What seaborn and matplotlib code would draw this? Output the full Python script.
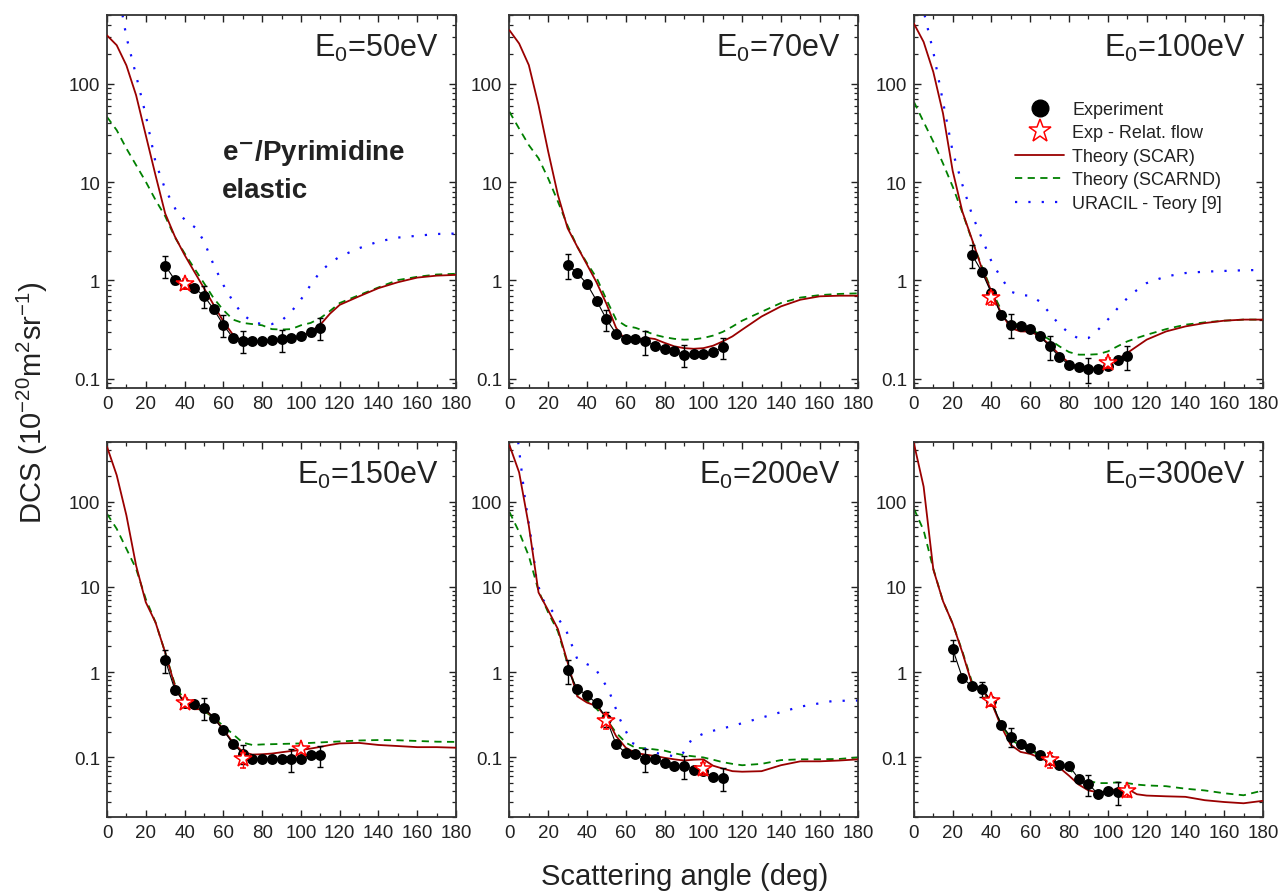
import numpy as np
import matplotlib
matplotlib.use("Agg")
import matplotlib.pyplot as plt
import seaborn as sns
import pandas as pd
from matplotlib.lines import Line2D
from matplotlib.ticker import FixedLocator, FixedFormatter, MultipleLocator, LogLocator, NullFormatter

# ---------------- data ----------------
ENERGIES = [50, 70, 100, 150, 200, 300]

ANG = [0, 5, 10, 15, 20, 25, 30, 35, 40, 45, 50, 55, 60, 65, 70, 75, 80, 85, 90, 95,
       100, 105, 110, 115, 120, 130, 140, 150, 160, 170, 180]

SCAR_50 = [311, 247, 154, 76.6, 30, 11.8, 4.8, 2.8, 1.82, 1.23, 0.836, 0.565, 0.383, 0.28, 0.24, 0.235,
           0.235, 0.237, 0.244, 0.255, 0.27, 0.30, 0.355, 0.46, 0.565, 0.69, 0.836, 0.96, 1.07, 1.12, 1.14]
SCARND_50 = [46, 33.8, 22, 14.9, 10.1, 6.6, 4.5, 2.75, 1.89, 1.33, 0.94, 0.66, 0.50, 0.40, 0.37, 0.36,
             0.35, 0.32, 0.317, 0.32, 0.35, 0.37, 0.414, 0.49, 0.59, 0.71, 0.85, 1.01, 1.09, 1.15, 1.17]
URA_ANG_50 = [8, 10, 15, 20, 25, 30, 36, 41, 46, 50, 55, 60, 65, 70, 75, 80, 85, 90, 95, 100,
              105, 110, 115, 120, 130, 140, 150, 160, 170, 180]
URA_50 = [500, 300, 122, 48, 16, 8.5, 5.0, 4.0, 3.4, 2.5, 1.44, 0.90, 0.61, 0.45, 0.38, 0.36, 0.36, 0.39,
          0.48, 0.64, 0.90, 1.23, 1.5, 1.75, 2.13, 2.49, 2.73, 2.85, 2.97, 3.0]

SCAR_70 = [351, 257, 155, 60.7, 20.4, 7.4, 3.4, 2.2, 1.45, 0.95, 0.58, 0.33, 0.245, 0.245, 0.262, 0.254,
           0.232, 0.214, 0.205, 0.202, 0.205, 0.217, 0.24, 0.27, 0.316, 0.43, 0.545, 0.637, 0.69, 0.70, 0.70]
SCARND_70 = [52, 35, 23.8, 17.5, 10.9, 6.35, 3.6, 2.2, 1.5, 1.06, 0.64, 0.40, 0.345, 0.33, 0.305, 0.28,
             0.265, 0.255, 0.25, 0.252, 0.26, 0.275, 0.30, 0.34, 0.39, 0.48, 0.59, 0.67, 0.71, 0.73, 0.74]

SCAR_100 = [410, 267, 132, 50, 13, 5.0, 2.6, 1.33, 0.77, 0.465, 0.328, 0.303, 0.303, 0.27, 0.222, 0.176,
            0.145, 0.131, 0.127, 0.128, 0.139, 0.157, 0.183, 0.214, 0.25, 0.303, 0.341, 0.369, 0.39, 0.40, 0.40]
SCARND_100 = [65.6, 41, 25.8, 15.5, 9.0, 4.9, 2.55, 1.39, 0.80, 0.50, 0.384, 0.341, 0.316, 0.286, 0.25, 0.214,
              0.187, 0.176, 0.176, 0.178, 0.19, 0.214, 0.24, 0.26, 0.28, 0.32, 0.355, 0.375, 0.39, 0.40, 0.40]
URA_ANG_100 = [5.5, 10, 15, 20, 25, 30, 35, 40, 45, 50, 55, 60, 65, 70, 75, 80, 85, 90, 95, 100,
               105, 110, 115, 120, 130, 140, 150, 160, 170, 180]
URA_100 = [500, 211, 65.6, 20.4, 9.4, 4.65, 2.7, 1.56, 1.06, 0.77, 0.71, 0.70, 0.61, 0.466, 0.355, 0.292,
           0.256, 0.26, 0.316, 0.40, 0.52, 0.66, 0.80, 0.94, 1.1, 1.19, 1.23, 1.25, 1.27, 1.28]

SCAR_150 = [440, 204, 69, 17.8, 6.6, 3.84, 1.7, 0.69, 0.42, 0.367, 0.37, 0.293, 0.213, 0.149, 0.116, 0.108,
            0.109, 0.111, 0.115, 0.119, 0.122, 0.127, 0.133, 0.14, 0.146, 0.148, 0.14, 0.136, 0.132, 0.132, 0.13]
SCARND_150 = [72, 48, 28, 16.3, 7.2, 3.84, 1.7, 0.72, 0.46, 0.384, 0.35, 0.293, 0.234, 0.187, 0.149, 0.14,
              0.142, 0.143, 0.144, 0.145, 0.146, 0.148, 0.15, 0.152, 0.154, 0.158, 0.16, 0.159, 0.156, 0.153, 0.152]

SCAR_200 = [460, 220, 52, 8.6, 5.3, 3.2, 1.3, 0.52, 0.44, 0.40, 0.293, 0.178, 0.13, 0.113, 0.108, 0.104,
            0.099, 0.095, 0.092, 0.094, 0.095, 0.08, 0.074, 0.069, 0.068, 0.069, 0.081, 0.09, 0.09, 0.092, 0.095]
SCARND_200 = [75.6, 44, 23, 9.0, 5.0, 3.0, 1.25, 0.56, 0.46, 0.37, 0.28, 0.195, 0.149, 0.13, 0.128, 0.124,
              0.12, 0.112, 0.106, 0.103, 0.1, 0.094, 0.088, 0.084, 0.081, 0.084, 0.093, 0.095, 0.095, 0.096, 0.1]
URA_ANG_200 = [4.5, 8, 12, 14, 17, 24, 29, 35, 40, 44, 51, 57, 63, 70, 77, 84, 89, 94, 101, 115,
               133, 150, 167, 180]
URA_200 = [500, 108, 28, 11.9, 7.2, 4.6, 3.2, 1.42, 1.24, 1.13, 0.63, 0.28, 0.149, 0.126, 0.111, 0.104,
           0.108, 0.163, 0.195, 0.234, 0.306, 0.394, 0.46, 0.465]

SCAR_300 = [481, 150, 16, 6.8, 3.7, 1.7, 0.72, 0.63, 0.44, 0.23, 0.14, 0.116, 0.11, 0.099, 0.088, 0.076,
            0.061, 0.048, 0.041, 0.039, 0.04, 0.043, 0.043, 0.037, 0.0357, 0.035, 0.0345, 0.0315, 0.030, 0.029, 0.031]
SCARND_300 = [82.8, 46, 16.3, 6.8, 3.7, 1.75, 0.76, 0.6, 0.44, 0.244, 0.163, 0.136, 0.119, 0.108, 0.094, 0.083,
              0.072, 0.06, 0.053, 0.05, 0.05, 0.051, 0.05, 0.048, 0.047, 0.046, 0.043, 0.041, 0.038, 0.036, 0.041]

EXP_ANG = [30, 35, 40, 45, 50, 55, 60, 65, 70, 75, 80, 85, 90, 95, 100, 105, 110]
EXP_50 = [1.42, 1.01, 0.92, 0.835, 0.70, 0.51, 0.354, 0.26, 0.244, 0.24, 0.244, 0.25, 0.252, 0.26, 0.27, 0.296, 0.33]
ERR_50 = [0.25, 0.08, 0.08, 0.08, 0.25, 0.08, 0.25, 0.08, 0.25, 0.06, 0.06, 0.06, 0.25, 0.06, 0.06, 0.08, 0.25]
EXP_70 = [1.44, 1.19, 0.92, 0.62, 0.405, 0.288, 0.254, 0.254, 0.24, 0.217, 0.202, 0.19, 0.176, 0.177, 0.177, 0.187, 0.21]
ERR_70 = [0.28, 0.08, 0.08, 0.08, 0.25, 0.08, 0.06, 0.06, 0.27, 0.06, 0.06, 0.06, 0.25, 0.06, 0.06, 0.06, 0.25]
EXP_100 = [1.82, 1.23, 0.74, 0.448, 0.355, 0.341, 0.323, 0.27, 0.214, 0.167, 0.139, 0.131, 0.126, 0.127, 0.134, 0.157, 0.169]
ERR_100 = [0.27, 0.08, 0.08, 0.08, 0.27, 0.08, 0.06, 0.06, 0.27, 0.06, 0.06, 0.06, 0.28, 0.06, 0.06, 0.06, 0.27]
EXP_150 = [1.4, 0.62, 0.44, 0.428, 0.384, 0.293, 0.208, 0.145, 0.111, 0.097, 0.095, 0.095, 0.096, 0.096, 0.097, 0.106, 0.107]
ERR_150 = [0.3, 0.08, 0.08, 0.08, 0.28, 0.08, 0.06, 0.06, 0.25, 0.06, 0.06, 0.06, 0.06, 0.3, 0.06, 0.06, 0.27]
EXP_200 = [1.06, 0.64, 0.536, 0.43, 0.285, 0.142, 0.113, 0.111, 0.097, 0.097, 0.086, 0.079, 0.08, 0.072, 0.069, 0.059, 0.058]
ERR_200 = [0.32, 0.08, 0.08, 0.08, 0.2, 0.08, 0.06, 0.06, 0.3, 0.06, 0.06, 0.06, 0.3, 0.06, 0.06, 0.06, 0.3]
EXP_ANG_300 = [20, 25, 30, 35, 40, 45, 50, 55, 60, 65, 70, 75, 80, 85, 90, 95, 100, 105]
EXP_300 = [1.87, 0.857, 0.68, 0.643, 0.46, 0.242, 0.175, 0.145, 0.129, 0.107, 0.093, 0.081, 0.08, 0.056,
           0.049, 0.037, 0.040, 0.0395]
ERR_300 = [0.28, 0.06, 0.06, 0.2, 0.08, 0.06, 0.25, 0.06, 0.06, 0.06, 0.08, 0.06, 0.06, 0.06, 0.28, 0.06, 0.06, 0.3]

REL_ANG_50, REL_50, REL_ERR_50 = [40], [0.92], [0.12]
REL_ANG_100, REL_100, REL_ERR_100 = [40, 100], [0.66, 0.145], [0.15, 0.12]
REL_ANG_150, REL_150, REL_ERR_150 = [40, 70, 100], [0.44, 0.095, 0.124], [0.12, 0.2, 0.1]
REL_ANG_200, REL_200, REL_ERR_200 = [50, 100], [0.27, 0.074], [0.2, 0.15]
REL_ANG_300, REL_300, REL_ERR_300 = [40, 70, 110], [0.46, 0.093, 0.040], [0.12, 0.2, 0.15]

LEGEND_LABELS = ["Experiment", "Exp - Relat. flow", "Theory (SCAR)", "Theory (SCARND)", "URACIL - Teory [9]"]

PANELS = {
    50: dict(scar=SCAR_50, scarnd=SCARND_50, ura=(URA_ANG_50, URA_50), exp=(EXP_ANG, EXP_50, ERR_50),
             rel=(REL_ANG_50, REL_50, REL_ERR_50)),
    70: dict(scar=SCAR_70, scarnd=SCARND_70, ura=None, exp=(EXP_ANG, EXP_70, ERR_70), rel=None),
    100: dict(scar=SCAR_100, scarnd=SCARND_100, ura=(URA_ANG_100, URA_100), exp=(EXP_ANG, EXP_100, ERR_100),
              rel=(REL_ANG_100, REL_100, REL_ERR_100)),
    150: dict(scar=SCAR_150, scarnd=SCARND_150, ura=None, exp=(EXP_ANG, EXP_150, ERR_150),
              rel=(REL_ANG_150, REL_150, REL_ERR_150)),
    200: dict(scar=SCAR_200, scarnd=SCARND_200, ura=(URA_ANG_200, URA_200), exp=(EXP_ANG, EXP_200, ERR_200),
              rel=(REL_ANG_200, REL_200, REL_ERR_200)),
    300: dict(scar=SCAR_300, scarnd=SCARND_300, ura=None, exp=(EXP_ANG_300, EXP_300, ERR_300),
              rel=(REL_ANG_300, REL_300, REL_ERR_300)),
}

# ---------------- style ----------------
sns.set_theme(style="ticks")
plt.rcParams['font.family'] = ['Liberation Sans', 'DejaVu Sans']
plt.rcParams['mathtext.default'] = 'regular'

RED = '#9a0000'
GREEN = '#008000'
BLUE = '#1010ff'
TXT = '#222222'
DASH = (0, (4, 3))
DOT = (0, (1, 5))

fig = plt.figure(figsize=(12.8, 8.95), dpi=100)

lefts = [0.0836, 0.398, 0.714]
width = 0.2727
rows = [(0.565, 0.417, 0.08), (0.086, 0.419, 0.02)]

for i, E in enumerate(ENERGIES):
    r, c = divmod(i, 3)
    bottom, height, ymin = rows[r]
    ax = fig.add_axes([lefts[c], bottom, width, height])
    ax.set_yscale('log')
    p = PANELS[E]

    df_scar = pd.DataFrame({'angle': ANG, 'dcs': p['scar']})
    df_nd = pd.DataFrame({'angle': ANG, 'dcs': p['scarnd']})
    sns.lineplot(data=df_nd, x='angle', y='dcs', ax=ax, color=GREEN, lw=1.3, linestyle=DASH,
                 estimator=None, sort=False, legend=False, zorder=2)
    sns.lineplot(data=df_scar, x='angle', y='dcs', ax=ax, color=RED, lw=1.3,
                 estimator=None, sort=False, legend=False, zorder=3)
    if p['ura'] is not None:
        df_u = pd.DataFrame({'angle': p['ura'][0], 'dcs': p['ura'][1]})
        sns.lineplot(data=df_u, x='angle', y='dcs', ax=ax, color=BLUE, lw=1.6, linestyle=DOT,
                     estimator=None, sort=False, legend=False, zorder=2)

    ea, ev, ee = p['exp']
    ev = np.array(ev); ee = np.array(ee)
    df_e = pd.DataFrame({'angle': ea, 'dcs': ev})
    sns.lineplot(data=df_e, x='angle', y='dcs', ax=ax, color='black', lw=0.8,
                 estimator=None, sort=False, legend=False, zorder=4)
    ax.errorbar(ea, ev, yerr=ev * ee, fmt='none', ecolor='black', elinewidth=1.0, capsize=2.2,
                capthick=1.0, zorder=4)
    sns.scatterplot(data=df_e, x='angle', y='dcs', ax=ax, color='black', s=62, marker='o',
                    edgecolor='black', linewidth=0, legend=False, zorder=5)

    if p['rel'] is not None:
        ra, rv, re_ = p['rel']
        rv = np.array(rv); re_ = np.array(re_)
        ax.errorbar(ra, rv, yerr=rv * re_, fmt='*', ms=13, mfc='white', mec='red', mew=1.1,
                    ecolor='red', elinewidth=1.0, capsize=2.2, capthick=1.0, zorder=6)

    ax.set_xlim(0, 180)
    ax.set_ylim(ymin, 500)
    ax.xaxis.set_major_locator(MultipleLocator(20))
    ax.xaxis.set_minor_locator(MultipleLocator(10))
    ax.yaxis.set_major_locator(FixedLocator([0.1, 1, 10, 100]))
    ax.yaxis.set_major_formatter(FixedFormatter(['0.1', '1', '10', '100']))
    ax.yaxis.set_minor_locator(LogLocator(base=10, subs=np.arange(2, 10)))
    ax.yaxis.set_minor_formatter(NullFormatter())
    ax.tick_params(which='both', direction='in', top=True, right=True, colors='#222222',
                   labelsize=13.5, labelcolor=TXT)
    ax.tick_params(which='major', length=5, width=1.0, pad=5)
    ax.tick_params(which='minor', length=2.6, width=0.9)
    for s in ax.spines.values():
        s.set_linewidth(1.3)
        s.set_color('#333333')
    ax.set_xlabel('')
    ax.set_ylabel('')

    ax.text(0.948, 0.955, f"E$_0$={E}eV", transform=ax.transAxes, ha='right', va='top',
            fontsize=22, color=TXT)

    if E == 50:
        ax.text(0.33, 0.614, r"e$^{\mathbf{-}}$/Pyrimidine", transform=ax.transAxes, ha='left',
                va='baseline', fontsize=20, fontweight='bold', color=TXT)
        ax.text(0.33, 0.512, "elastic", transform=ax.transAxes, ha='left', va='baseline',
                fontsize=20, fontweight='bold', color=TXT)
    if E == 100:
        handles = [
            Line2D([], [], marker='o', color='black', ls='none', ms=12),
            Line2D([], [], marker='*', mfc='white', mec='red', mew=1.1, ls='none', ms=17),
            Line2D([], [], color=RED, lw=1.3),
            Line2D([], [], color=GREEN, lw=1.3, ls=DASH),
            Line2D([], [], color=BLUE, lw=1.6, ls=DOT),
        ]
        leg = ax.legend(handles, LEGEND_LABELS, loc='upper left', bbox_to_anchor=(0.29, 0.77),
                        frameon=False, fontsize=13, handlelength=2.7, handletextpad=0.45,
                        labelspacing=0.36, borderpad=0, borderaxespad=0)
        for t in leg.get_texts():
            t.set_color(TXT)

fig.text(0.025, 0.55, r"DCS (10$^{-20}$m$^{2}$sr$^{-1}$)", rotation=90, ha='center', va='center',
         fontsize=21, color=TXT)
fig.text(0.535, 0.02, "Scattering angle (deg)", ha='center', va='center', fontsize=21, color=TXT)

fig.savefig("out.png", dpi=100, facecolor='white')
